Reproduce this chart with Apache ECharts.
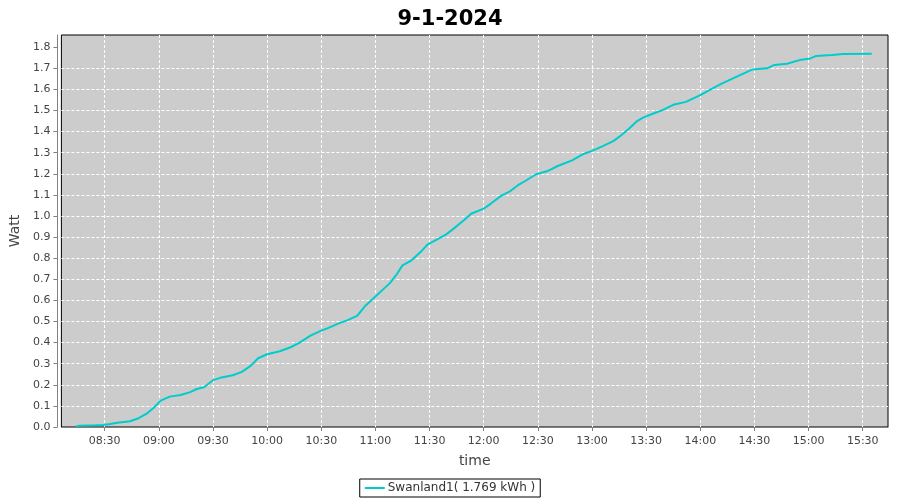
<!DOCTYPE html>
<html>
<head>
<meta charset="utf-8">
<script src="https://cdn.jsdelivr.net/npm/echarts@6/dist/echarts.min.js"></script>
<style>html,body{margin:0;padding:0;background:#fff;}#c{width:900px;height:500px;}</style>
</head>
<body>
<div id="c"></div>
<script>
var chartTitle = '9-1-2024';
var seriesName = 'Swanland1( 1.769 kWh )';
var times = ['08:14','08:16','08:20','08:25','08:29','08:33','08:37','08:44','08:48','08:53','08:57','09:01','09:06','09:12','09:17','09:21','09:25','09:30','09:34','09:41','09:46','09:51','09:55','10:00','10:07','10:13','10:18','10:24','10:30','10:34','10:39','10:45','10:50','10:54','11:00','11:08','11:12','11:15','11:20','11:25','11:29','11:35','11:39','11:43','11:49','11:53','12:00','12:04','12:10','12:14','12:19','12:23','12:29','12:35','12:41','12:49','12:55','13:00','13:06','13:12','13:15','13:20','13:25','13:28','13:34','13:39','13:45','13:52','14:00','14:05','14:11','14:16','14:22','14:29','14:37','14:41','14:48','14:55','15:01','15:04','15:13','15:19','15:35'];
var values = [0.003,0.006,0.007,0.008,0.009,0.014,0.020,0.027,0.039,0.062,0.090,0.125,0.144,0.152,0.164,0.180,0.188,0.222,0.233,0.245,0.261,0.291,0.326,0.345,0.359,0.378,0.400,0.433,0.457,0.470,0.489,0.508,0.528,0.571,0.619,0.682,0.726,0.766,0.790,0.829,0.866,0.893,0.912,0.938,0.980,1.011,1.035,1.059,1.098,1.114,1.146,1.166,1.198,1.212,1.237,1.264,1.293,1.309,1.331,1.356,1.375,1.410,1.450,1.465,1.486,1.502,1.527,1.541,1.573,1.597,1.624,1.644,1.668,1.695,1.700,1.716,1.722,1.739,1.747,1.758,1.763,1.768,1.769];
var yTicks = [0,0.1,0.2,0.3,0.4,0.5,0.6,0.7,0.8,0.9,1.0,1.1,1.2,1.3,1.4,1.5,1.6,1.7,1.8];
var xMin = '08:06', xMax = '15:44';
var yMax = 1.858;

function ts(hm){var p=hm.split(':');return new Date(2024,0,9,+p[0],+p[1]).getTime();}
var data = times.map(function(t,i){return [ts(t), values[i]];});
function pad(n){return (n<10?'0':'')+n;}

var chart = echarts.init(document.getElementById('c'), null, {renderer:'canvas'});
var axisFont = {fontFamily:'DejaVu Sans', fontSize:11, color:'#444'};
var grid = {color:'#fff', type:[3,2], width:1};
chart.setOption({
  animation:false,
  backgroundColor:'#fff',
  title:{text:chartTitle, left:'center', top:4, textStyle:{fontFamily:'DejaVu Sans', fontWeight:'bold', fontSize:21, color:'#000'}},
  grid:{left:61, right:12, top:35, bottom:73, show:true, backgroundColor:'#cccccc', borderColor:'#000', borderWidth:1},
  legend:{bottom:3, left:'center', data:[seriesName], itemWidth:20, itemHeight:2, itemGap:4, icon:'rect',
    borderColor:'#000', borderWidth:1, borderRadius:0, padding:[3,5,3,5],
    textStyle:{fontFamily:'DejaVu Sans', fontSize:12, color:'#333', padding:[0,0,0,-2]}},
  xAxis:{type:'time', min:ts(xMin), max:ts(xMax), splitNumber:15, offset:4,
    name:'time', nameLocation:'middle', nameGap:23, nameTextStyle:{fontFamily:'DejaVu Sans', fontSize:14, color:'#444'},
    axisLine:{show:true, lineStyle:{color:'#808080'}},
    axisTick:{show:true, inside:false, length:4, lineStyle:{color:'#808080'}},
    axisLabel:Object.assign({margin:5, hideOverlap:false, showMinLabel:false, showMaxLabel:false,
      formatter:function(v){var d=new Date(v);return pad(d.getHours())+':'+pad(d.getMinutes());}}, axisFont),
    splitLine:{show:true, showMinLine:false, showMaxLine:false, lineStyle:grid}
  },
  yAxis:{type:'value', min:0, max:yMax, interval:0.1, offset:4,
    name:'Watt', nameLocation:'middle', nameGap:24, nameTextStyle:{fontFamily:'DejaVu Sans', fontSize:14, color:'#444'},
    axisLine:{show:true, lineStyle:{color:'#808080'}},
    axisTick:{show:true, inside:false, length:4, lineStyle:{color:'#808080'}, customValues:yTicks},
    axisLabel:Object.assign({margin:7, customValues:yTicks, formatter:function(v){return v.toFixed(1);}}, axisFont),
    splitLine:{show:true, showMinLine:false, showMaxLine:false, lineStyle:grid}
  },
  series:[{name:seriesName, type:'line', data:data, showSymbol:false, symbol:'none',
    lineStyle:{color:'#00cccc', width:2}, itemStyle:{color:'#00cccc'}}]
});
</script>
</body>
</html>
